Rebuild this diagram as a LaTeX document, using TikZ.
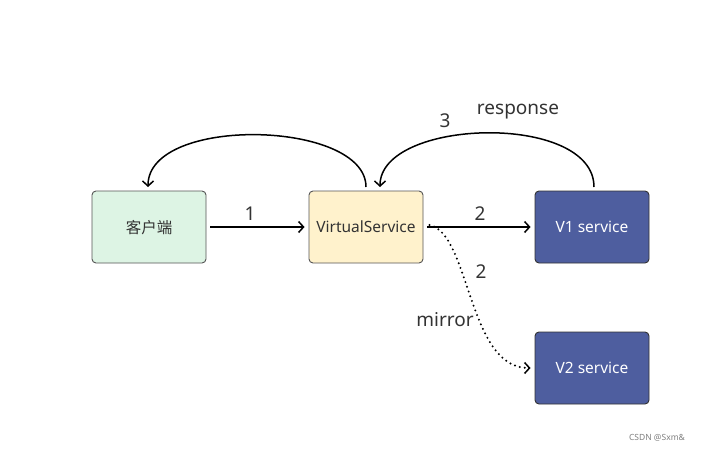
\documentclass[tikz,border=0pt]{standalone}
\usepackage{fontspec}
\setmainfont{Noto Sans}
\newfontfamily\cjk{Noto Sans CJK SC}
\usetikzlibrary{arrows.meta}
\definecolor{gfill}{HTML}{DDF4E4}
\definecolor{yfill}{HTML}{FFF2CC}
\definecolor{bfill}{HTML}{4E5E9F}
\definecolor{edge}{HTML}{555555}
\definecolor{txt}{HTML}{333333}
\tikzset{
  box/.style={draw=edge, line width=0.9pt, rounded corners=4pt, minimum width=114pt, minimum height=72pt, inner sep=0pt, font=\fontsize{15.5}{18}\selectfont, text=txt, text depth=1pt},
  dark/.style={box, fill=bfill, text=white, draw=black!80},
  conn/.style={line width=1.5pt, -{Straight Barb[length=5pt,width=11pt,line width=1.5pt]}},
  dots/.style={line width=2.2pt, line cap=round, dash pattern=on 0pt off 5pt},
  lbl/.style={font=\fontsize{19}{22}\selectfont, text=txt, inner sep=0pt}
}
\begin{document}
\begin{tikzpicture}[x=1pt,y=-1pt]
\useasboundingbox[fill=white] (0,0) rectangle (705,452);
\node[box, fill=gfill] (client) at (149,227) {\cjk 客户端};
\node[box, fill=yfill] (vs) at (366,227) {VirtualService};
\node[dark] (v1) at (592,227) {V1 service};
\node[dark] (v2) at (592,368) {V2 service};
\coordinate (vsTopL) at (366,187);
\coordinate (vsTopR) at (380,187);
\coordinate (clTop) at (148,187);
\coordinate (v1Top) at (594,187);
\draw[conn] ([xshift=4pt]client.east) -- ([xshift=-4pt]vs.west);
\draw[conn] ([xshift=4pt]vs.east) -- ([xshift=-4pt]v1.west);
\draw[conn] (vsTopL) .. controls (366,120) and (148,115) .. (clTop);
\draw[conn] (v1Top) .. controls (594,112) and (380,118) .. (vsTopR);
\draw[dots] ([xshift=6pt,yshift=2pt]vs.east) .. controls (470,233) and (468,369) .. ([xshift=-6pt]v2.west);
\draw[conn] ([xshift=-7pt]v2.west) -- ([xshift=-4pt]v2.west);
\node[lbl] (n1) at (250,214) {1};
\node[lbl] (n2) at (480,214) {2};
\node[lbl] (n3) at (445,121) {3};
\node[lbl] (resp) at (518,112) {response};
\node[lbl] (n2b) at (481,272) {2};
\node[lbl] (mir) at (445,320) {mirror};
\node[font=\fontsize{8.5}{10}\selectfont, text=black!50] (wm) at (657,438) {CSDN @Sxm\&};
\end{tikzpicture}
\end{document}
